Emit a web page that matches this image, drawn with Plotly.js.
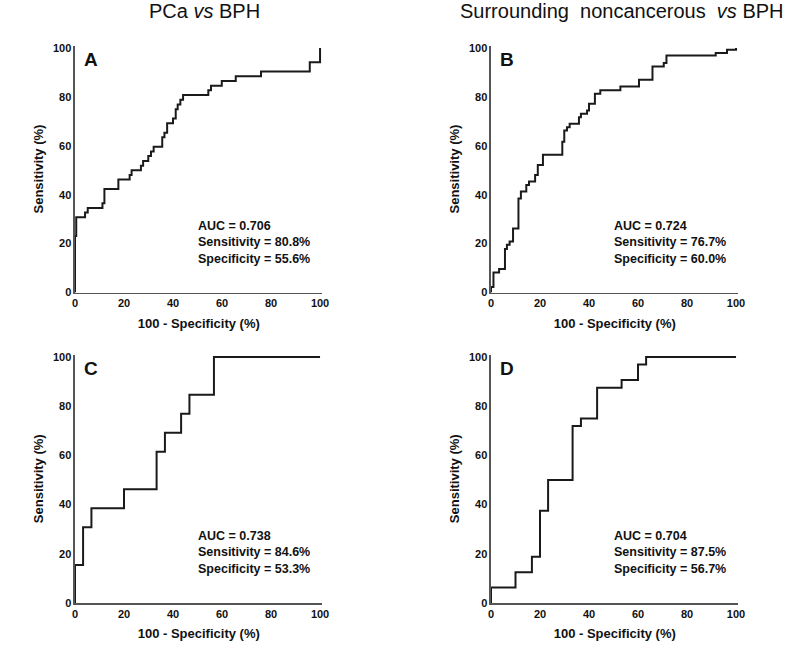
<!DOCTYPE html>
<html>
<head>
<meta charset="utf-8">
<script src="https://cdn.plot.ly/plotly-3.0.1.min.js"></script>
<style>html,body{margin:0;padding:0;background:#fff;}#chart{width:796px;height:648px;}</style>
</head>
<body>
<div id="chart"></div>
<script>
// Panel A: PCa vs BPH (100 - Specificity, Sensitivity)
const fprA = [0, 0, 0.5, 4.1, 5.2, 11.2, 12, 17.7, 22.3, 23.1, 26.9, 27.8, 29.9, 31, 32.1, 35.6, 36.5, 37.6, 40, 41.1, 41.9, 43, 44.1, 54.4, 55.5, 59.9, 65.6, 75.9, 95.8, 100];
const tprA = [0, 23.1, 30.8, 32.7, 34.6, 36.5, 42.3, 46.2, 48.1, 50, 51.9, 53.8, 55.8, 57.7, 59.6, 63.5, 65.4, 69.2, 71.2, 75, 76.9, 78.8, 80.8, 82.7, 84.6, 86.5, 88.5, 90.4, 94.2, 100];
// Panel B: Surrounding noncancerous vs BPH
const fprB = [0, 0, 1, 3.3, 5.7, 6.5, 7.6, 9, 11.2, 12.2, 14.4, 15.5, 18, 19.1, 21.2, 29.1, 29.9, 31, 32.1, 35.9, 36.7, 39.2, 40, 42.4, 44.6, 52.8, 60.4, 65.9, 70.5, 71.6, 91.7, 96.3, 100];
const tprB = [0, 2.3, 8.2, 9.6, 17.8, 19.5, 20.9, 26.2, 38.5, 41.3, 44, 45.4, 48.1, 52.2, 56.3, 61.7, 66.3, 67.6, 69, 71.7, 73.1, 74.5, 77.2, 81.3, 82.7, 84.3, 87, 92.5, 93.9, 96.9, 98, 99.3, 100];
// Panel C
const fprC = [0, 0, 3.3, 6.7, 20, 33.3, 36.7, 43.3, 46.7, 56.7, 100];
const tprC = [0, 15.4, 30.8, 38.5, 46.2, 61.5, 69.2, 76.9, 84.6, 100, 100];
// Panel D
const fprD = [0, 0, 10, 16.7, 20, 23.3, 33.3, 36.7, 43.3, 53.3, 60, 63.3, 100];
const tprD = [0, 6.25, 12.5, 18.75, 37.5, 50, 71.9, 75, 87.5, 90.6, 96.9, 100, 100];

const panelLetters = ["A", "B", "C", "D"];
const aucText = ["AUC = 0.706", "AUC = 0.724", "AUC = 0.738", "AUC = 0.704"];
const sensText = ["Sensitivity = 80.8%", "Sensitivity = 76.7%", "Sensitivity = 84.6%", "Sensitivity = 87.5%"];
const specText = ["Specificity = 55.6%", "Specificity = 60.0%", "Specificity = 53.3%", "Specificity = 56.7%"];
const columnTitles = ["PCa <i>vs</i> BPH", "Surrounding&nbsp; noncancerous&nbsp; <i>vs</i> BPH"];
const tickVals = [0, 20, 40, 60, 80, 100];
const xTitle = "100 - Specificity (%)";
const yTitle = "Sensitivity (%)";

const FONT = "Liberation Sans, Arial, sans-serif";
const series = [[fprA, tprA], [fprB, tprB], [fprC, tprC], [fprD, tprD]];
const suffix = ["", "2", "3", "4"];

const traces = series.map((s, i) => ({
  x: s[0], y: s[1], type: "scatter", mode: "lines",
  line: {shape: "hv", color: "#1a1a1a", width: 2},
  xaxis: "x" + suffix[i], yaxis: "y" + suffix[i],
  showlegend: false, hoverinfo: "skip"
}));

const xDom = [[0.09422, 0.40515], [0.61683, 0.92776]];
const yDom = [[0.54861, 0.92963], [0.06944, 0.45293]];

function axisBase() {
  return {
    range: [0, 101], tickvals: tickVals, showgrid: false, zeroline: false,
    showline: true, linecolor: "#555", linewidth: 1.5, ticks: "",
    tickfont: {family: FONT, size: 11, color: "#111", weight: "bold"},
    fixedrange: true
  };
}

const layout = {
  width: 796, height: 648,
  margin: {l: 0, r: 0, t: 0, b: 0},
  paper_bgcolor: "#fff", plot_bgcolor: "#fff",
  showlegend: false,
  annotations: []
};

for (let i = 0; i < 4; i++) {
  const col = i % 2, row = Math.floor(i / 2);
  const xa = axisBase(), ya = axisBase();
  xa.domain = xDom[col]; ya.domain = yDom[row];
  xa.anchor = "y" + suffix[i]; ya.anchor = "x" + suffix[i];
  xa.title = {text: xTitle, font: {family: FONT, size: 13, color: "#111", weight: "bold"}, standoff: 10};
  ya.title = {text: yTitle, font: {family: FONT, size: 13, color: "#111", weight: "bold"}, standoff: 6};
  layout["xaxis" + suffix[i]] = xa;
  layout["yaxis" + suffix[i]] = ya;
  layout.annotations.push({
    xref: "x" + suffix[i], yref: "y" + suffix[i], x: 3, y: 100.5,
    xanchor: "left", yanchor: "top", showarrow: false,
    text: "<b>" + panelLetters[i] + "</b>",
    font: {family: FONT, size: 19, color: "#111"}
  });
  layout.annotations.push({
    xref: "x" + suffix[i], yref: "y" + suffix[i], x: 49.5, y: 20.6,
    xanchor: "left", yanchor: "middle", align: "left", showarrow: false,
    text: "<b>" + aucText[i] + "<br>" + sensText[i] + "<br>" + specText[i] + "</b>",
    font: {family: FONT, size: 12.5, color: "#111"}
  });
}

const titleX = [204 / 796, 622 / 796];
columnTitles.forEach((t, j) => {
  layout.annotations.push({
    xref: "paper", yref: "paper", x: titleX[j], y: 1 - 11 / 648,
    xanchor: "center", yanchor: "middle", showarrow: false,
    text: t, font: {family: FONT, size: 20, color: "#111"}
  });
});

Plotly.newPlot("chart", traces, layout, {displayModeBar: false, staticPlot: true});
</script>
</body>
</html>
